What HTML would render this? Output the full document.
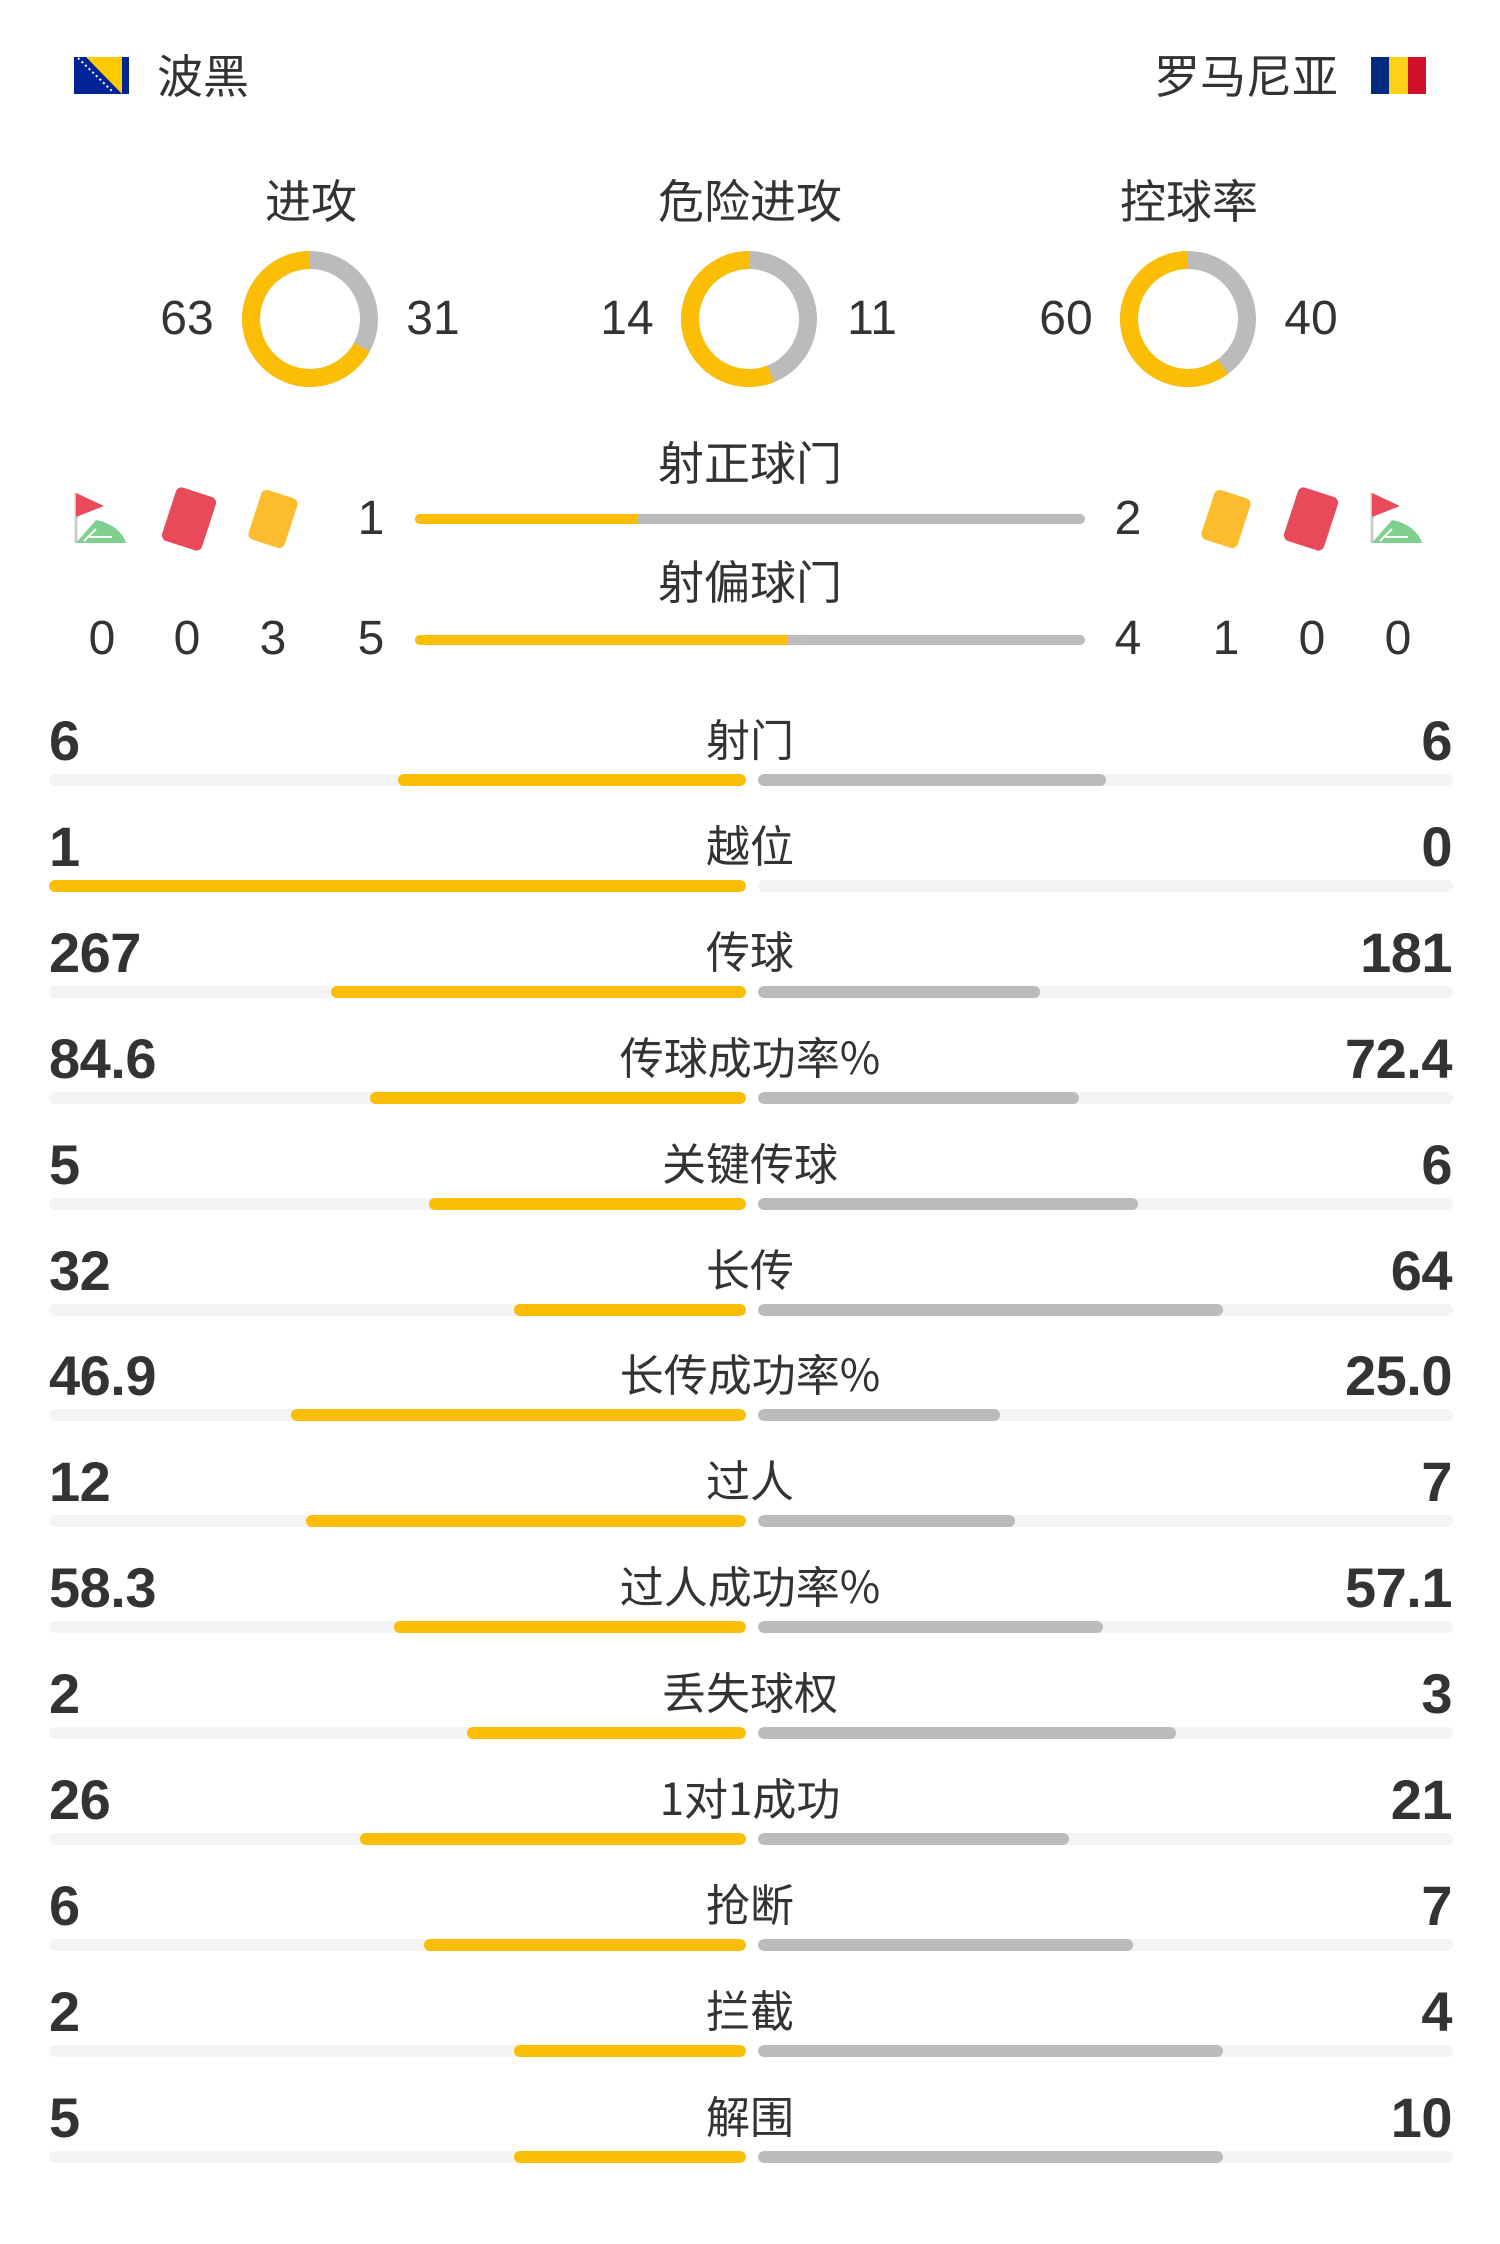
<!DOCTYPE html>
<html><head><meta charset="utf-8">
<style>
*{margin:0;padding:0;box-sizing:border-box}
body{width:1500px;height:2244px;background:#fff;position:relative;overflow:hidden;font-family:"Liberation Sans","Noto Sans CJK SC",sans-serif;color:#333}
.a{position:absolute;white-space:nowrap}
.cj{font-family:"Noto Sans CJK SC",sans-serif}
.num{font-size:48px;line-height:48px;transform:translate(-50%,-50%)}
.h{font-size:46px;line-height:46px;transform:translate(-50%,-50%)}
.sn{font-size:56px;font-weight:bold;line-height:56px;transform:translateY(-50%);letter-spacing:-0.5px}
.sl{font-size:44px;line-height:44px;transform:translate(-50%,-50%);left:750px}
.tl{position:absolute;left:49px;width:697px;height:12px;background:#f4f4f4;border-radius:6px;overflow:hidden}
.tr{position:absolute;left:758px;width:695px;height:12px;background:#f4f4f4;border-radius:6px;overflow:hidden}
.tl i{position:absolute;right:0;top:0;height:12px;background:#fcbd05;border-radius:6px}
.tr i{position:absolute;left:0;top:0;height:12px;background:#bbb;border-radius:6px}
.bar{position:absolute;left:415px;width:670px;height:10px;background:#bbb;border-radius:5px;overflow:hidden}
.bar i{position:absolute;left:0;top:0;height:10px;background:#fcbd05}
</style></head><body>
<svg class="a" style="left:74px;top:57px" width="55" height="37" viewBox="0 0 55 37">
<rect width="55" height="37" fill="#002395"/><polygon points="12,0 48,0 48,37" fill="#fecb00"/>
<line x1="4" y1="1" x2="40" y2="36" stroke="#fff" stroke-width="2" stroke-dasharray="2 3"/></svg>
<div class="a cj" style="left:157px;top:51px;font-size:46px;line-height:46px">波黑</div>
<div class="a cj" style="left:1154px;top:51px;font-size:46px;line-height:46px">罗马尼亚</div>
<svg class="a" style="left:1371px;top:57px" width="55" height="37"><rect width="18" height="37" fill="#002b7f"/><rect x="18" width="19" height="37" fill="#fcd116"/><rect x="37" width="18" height="37" fill="#ce1126"/></svg>

<div class="a h cj" style="left:311px;top:199px">进攻</div>
<div class="a h cj" style="left:750px;top:199px">危险进攻</div>
<div class="a h cj" style="left:1189px;top:199px">控球率</div>

<svg class="a" style="left:0;top:0" width="1500" height="420">
<g fill="none" stroke-width="18">
<circle cx="310" cy="319" r="59" stroke="#bbb"/>
<circle r="59" stroke="#fcbd05" stroke-dasharray="248.4 400" transform="translate(310 319) scale(-1 1) rotate(-90)"/>
<circle cx="749" cy="319" r="59" stroke="#bbb"/>
<circle r="59" stroke="#fcbd05" stroke-dasharray="207.6 400" transform="translate(749 319) scale(-1 1) rotate(-90)"/>
<circle cx="1188" cy="319" r="59" stroke="#bbb"/>
<circle r="59" stroke="#fcbd05" stroke-dasharray="222.4 400" transform="translate(1188 319) scale(-1 1) rotate(-90)"/>
</g></svg>
<div class="a num" style="left:187px;top:319px">63</div>
<div class="a num" style="left:433px;top:319px">31</div>
<div class="a num" style="left:627px;top:319px">14</div>
<div class="a num" style="left:872px;top:319px">11</div>
<div class="a num" style="left:1066px;top:319px">60</div>
<div class="a num" style="left:1311px;top:319px">40</div>

<div class="a h cj" style="left:750px;top:461px">射正球门</div>
<div class="a h cj" style="left:750px;top:580px">射偏球门</div>
<div class="bar" style="top:514px"><i style="width:223px"></i></div>
<div class="bar" style="top:635px"><i style="width:372px"></i></div>

<svg class="a" style="left:0;top:485px" width="1500" height="70">
<g>
<line x1="76" y1="8" x2="76" y2="58" stroke="#ccc" stroke-width="3"/>
<polygon points="76,8 104,21 76,32" fill="#e84a5a"/>
<path d="M76 58 L126 58 A40 30 0 0 0 96 35 Z" fill="#7fd08e"/>
<path d="M84 56 L96 44 M90 52 L112 52" stroke="#fff" stroke-width="2" fill="none"/>
</g>
<rect x="168" y="6" width="42" height="56" rx="6" fill="#e84a5a" transform="rotate(18 189 34)"/>
<rect x="254" y="8" width="38" height="52" rx="6" fill="#fbbd2e" transform="rotate(18 273 34)"/>
<rect x="1207" y="8" width="38" height="52" rx="6" fill="#fbbd2e" transform="rotate(18 1226 34)"/>
<rect x="1290" y="6" width="42" height="56" rx="6" fill="#e84a5a" transform="rotate(18 1311 34)"/>
<g transform="translate(1296 0)">
<line x1="76" y1="8" x2="76" y2="58" stroke="#ccc" stroke-width="3"/>
<polygon points="76,8 104,21 76,32" fill="#e84a5a"/>
<path d="M76 58 L126 58 A40 30 0 0 0 96 35 Z" fill="#7fd08e"/>
<path d="M84 56 L96 44 M90 52 L112 52" stroke="#fff" stroke-width="2" fill="none"/>
</g></svg>
<div class="a num" style="left:371px;top:519px">1</div>
<div class="a num" style="left:1128px;top:519px">2</div>
<div class="a num" style="left:102px;top:639px">0</div>
<div class="a num" style="left:187px;top:639px">0</div>
<div class="a num" style="left:273px;top:639px">3</div>
<div class="a num" style="left:371px;top:639px">5</div>
<div class="a num" style="left:1128px;top:639px">4</div>
<div class="a num" style="left:1226px;top:639px">1</div>
<div class="a num" style="left:1312px;top:639px">0</div>
<div class="a num" style="left:1398px;top:639px">0</div>

<div class="a sn" style="left:49px;top:741px">6</div><div class="a sl cj" style="top:737px">射门</div><div class="a sn" style="right:48px;top:741px">6</div>
<div class="tl" style="top:774px"><i style="width:348px"></i></div><div class="tr" style="top:774px"><i style="width:348px"></i></div>

<div class="a sn" style="left:49px;top:847px">1</div><div class="a sl cj" style="top:843px">越位</div><div class="a sn" style="right:48px;top:847px">0</div>
<div class="tl" style="top:880px"><i style="width:697px"></i></div><div class="tr" style="top:880px"><i style="width:0"></i></div>

<div class="a sn" style="left:49px;top:953px">267</div><div class="a sl cj" style="top:949px">传球</div><div class="a sn" style="right:48px;top:953px">181</div>
<div class="tl" style="top:986px"><i style="width:415px"></i></div><div class="tr" style="top:986px"><i style="width:282px"></i></div>

<div class="a sn" style="left:49px;top:1059px">84.6</div><div class="a sl cj" style="top:1055px">传球成功率%</div><div class="a sn" style="right:48px;top:1059px">72.4</div>
<div class="tl" style="top:1092px"><i style="width:376px"></i></div><div class="tr" style="top:1092px"><i style="width:321px"></i></div>

<div class="a sn" style="left:49px;top:1165px">5</div><div class="a sl cj" style="top:1161px">关键传球</div><div class="a sn" style="right:48px;top:1165px">6</div>
<div class="tl" style="top:1198px"><i style="width:317px"></i></div><div class="tr" style="top:1198px"><i style="width:380px"></i></div>

<div class="a sn" style="left:49px;top:1271px">32</div><div class="a sl cj" style="top:1267px">长传</div><div class="a sn" style="right:48px;top:1271px">64</div>
<div class="tl" style="top:1304px"><i style="width:232px"></i></div><div class="tr" style="top:1304px"><i style="width:465px"></i></div>

<div class="a sn" style="left:49px;top:1376px">46.9</div><div class="a sl cj" style="top:1372px">长传成功率%</div><div class="a sn" style="right:48px;top:1376px">25.0</div>
<div class="tl" style="top:1409px"><i style="width:455px"></i></div><div class="tr" style="top:1409px"><i style="width:242px"></i></div>

<div class="a sn" style="left:49px;top:1482px">12</div><div class="a sl cj" style="top:1478px">过人</div><div class="a sn" style="right:48px;top:1482px">7</div>
<div class="tl" style="top:1515px"><i style="width:440px"></i></div><div class="tr" style="top:1515px"><i style="width:257px"></i></div>

<div class="a sn" style="left:49px;top:1588px">58.3</div><div class="a sl cj" style="top:1584px">过人成功率%</div><div class="a sn" style="right:48px;top:1588px">57.1</div>
<div class="tl" style="top:1621px"><i style="width:352px"></i></div><div class="tr" style="top:1621px"><i style="width:345px"></i></div>

<div class="a sn" style="left:49px;top:1694px">2</div><div class="a sl cj" style="top:1690px">丢失球权</div><div class="a sn" style="right:48px;top:1694px">3</div>
<div class="tl" style="top:1727px"><i style="width:279px"></i></div><div class="tr" style="top:1727px"><i style="width:418px"></i></div>

<div class="a sn" style="left:49px;top:1800px">26</div><div class="a sl cj" style="top:1796px">1对1成功</div><div class="a sn" style="right:48px;top:1800px">21</div>
<div class="tl" style="top:1833px"><i style="width:386px"></i></div><div class="tr" style="top:1833px"><i style="width:311px"></i></div>

<div class="a sn" style="left:49px;top:1906px">6</div><div class="a sl cj" style="top:1902px">抢断</div><div class="a sn" style="right:48px;top:1906px">7</div>
<div class="tl" style="top:1939px"><i style="width:322px"></i></div><div class="tr" style="top:1939px"><i style="width:375px"></i></div>

<div class="a sn" style="left:49px;top:2012px">2</div><div class="a sl cj" style="top:2008px">拦截</div><div class="a sn" style="right:48px;top:2012px">4</div>
<div class="tl" style="top:2045px"><i style="width:232px"></i></div><div class="tr" style="top:2045px"><i style="width:465px"></i></div>

<div class="a sn" style="left:49px;top:2118px">5</div><div class="a sl cj" style="top:2114px">解围</div><div class="a sn" style="right:48px;top:2118px">10</div>
<div class="tl" style="top:2151px"><i style="width:232px"></i></div><div class="tr" style="top:2151px"><i style="width:465px"></i></div>
</body></html>
